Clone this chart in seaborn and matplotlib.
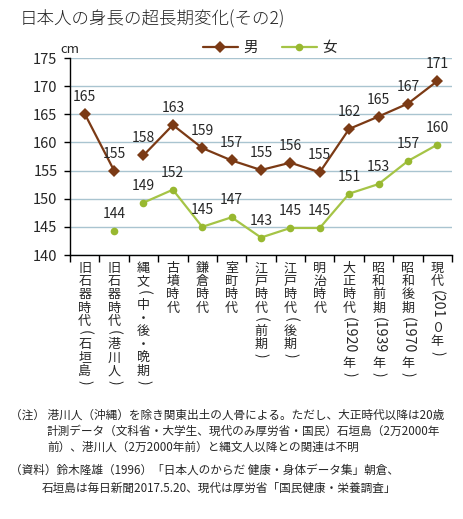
import re
import numpy as np
import pandas as pd
import matplotlib
matplotlib.use("Agg")
import matplotlib.pyplot as plt
import seaborn as sns
from matplotlib.font_manager import FontProperties
from matplotlib.textpath import TextToPath

# ---------------- data ----------------
categories = [
    "旧石器時代(石垣島)", "旧石器時代(港川人)", "縄文(中・後・晩期)", "古墳時代",
    "鎌倉時代", "室町時代", "江戸時代(前期)", "江戸時代(後期)", "明治時代",
    "大正時代(1920年)", "昭和前期(1939年)", "昭和後期(1970年)", "現代(201０年)",
]
male = [165.1, 155.0, 157.7, 163.1, 159.0, 156.8, 155.1, 156.4, 154.7,
        162.4, 164.6, 166.9, 170.9]
female = [np.nan, 144.2, 149.3, 151.6, 145.0, 146.7, 143.1, 144.8, 144.8,
          150.9, 152.6, 156.7, 159.6]
# line segments (no line joins points of different segments)
male_segment = [0, 0, 1, 1, 1, 1, 1, 1, 1, 1, 1, 1, 1]
female_segment = [0, 0, 1, 1, 1, 1, 1, 1, 1, 1, 1, 1, 1]
series_names = ["男", "女"]
y_ticks = [140, 145, 150, 155, 160, 165, 170, 175]

title = "日本人の身長の超長期変化(その2)"
note_lines = [
    "（注） 港川人（沖縄）を除き関東出土の人骨による。ただし、大正時代以降は20歳",
    "計測データ（文科省・大学生、現代のみ厚労省・国民）石垣島（2万2000年",
    "前）、港川人（2万2000年前）と縄文人以降との関連は不明",
]
source_lines = [
    "（資料）鈴木隆雄（1996）「日本人のからだ 健康・身体データ集」朝倉、",
    "石垣島は毎日新聞2017.5.20、現代は厚労省「国民健康・栄養調査」",
]

# ---------------- style ----------------
sns.set_style("white")
plt.rcParams["font.family"] = ["Noto Sans CJK JP", "DejaVu Sans"]

MALE_C = "#7B3A15"
FEMALE_C = "#A5C446"
FEMALE_MK = "#98B830"

W, H, DPI = 464, 519, 100
fig = plt.figure(figsize=(W / DPI, H / DPI), dpi=DPI)
ax_l, ax_r, ax_t, ax_b = 70, 452, 58, 255
ax = fig.add_axes([ax_l / W, 1 - ax_b / H, (ax_r - ax_l) / W, (ax_b - ax_t) / H])

x = np.arange(len(categories))
df = pd.concat([
    pd.DataFrame({"x": x, "height": male, "sex": series_names[0],
                  "seg": [f"m{s}" for s in male_segment]}),
    pd.DataFrame({"x": x, "height": female, "sex": series_names[1],
                  "seg": [f"f{s}" for s in female_segment]}),
]).dropna()

sns.lineplot(data=df, x="x", y="height", hue="sex", style="sex", units="seg",
             estimator=None, palette={"男": MALE_C, "女": FEMALE_C},
             markers={"男": "D", "女": "o"}, dashes=False, linewidth=1.6,
             markersize=6, markeredgewidth=0, ax=ax, legend=True, sort=True)

for ln in ax.get_lines():
    if matplotlib.colors.to_hex(ln.get_color()) == FEMALE_C.lower():
        ln.set_markerfacecolor(FEMALE_MK)
        ln.set_markersize(5.5)

ax.set_xlim(-0.5, len(categories) - 0.5)
ax.set_ylim(y_ticks[0], y_ticks[-1])
ax.set_yticks(y_ticks)
ax.set_xticks(np.arange(-0.5, len(categories), 1.0))
ax.set_xticklabels([])
ax.set_xlabel("")
ax.set_ylabel("")
ax.grid(axis="y", color="#A9C4D0", linewidth=1.0)
ax.set_axisbelow(True)
for s in ["top", "right"]:
    ax.spines[s].set_visible(False)
for s in ["left", "bottom"]:
    ax.spines[s].set_color("black")
    ax.spines[s].set_linewidth(1.0)
ax.tick_params(axis="y", length=4, width=1, color="black", pad=5, labelsize=10.5,
               direction="out", left=True)
ax.tick_params(axis="x", length=5, width=1, color="black", direction="out", bottom=True)

# cm unit label
ax.text(0.0, 1.045, "cm", transform=ax.transAxes, ha="center", va="center", fontsize=9.5)

# data labels
for vals in (male, female):
    for i, v in enumerate(vals):
        if np.isfinite(v):
            ax.annotate(f"{v:.0f}", (i, v), xytext=(0, 17), textcoords="offset pixels",
                        ha="center", va="center", fontsize=10)

# legend
handles, labels = ax.get_legend_handles_labels()
ax.legend(handles, labels, loc="center", bbox_to_anchor=(270 / W, 1 - 48 / H),
          bbox_transform=fig.transFigure, ncol=2, frameon=False, fontsize=10.5,
          handlelength=2.4, handletextpad=0.4, columnspacing=1.6)

# vertical category labels
TICK_FS = 9.4
fp = FontProperties(family="Noto Sans CJK JP", size=TICK_FS)
fp_ascii = FontProperties(family="Noto Sans CJK JP", size=10.2)
t2p = TextToPath()
pxpt = DPI / 72.0
PITCH = 13.2
for i, lab in enumerate(categories):
    yoff = -7
    for tok in re.findall(r"[\x20-\x7e]+|.", lab):
        if tok.isascii():
            w, h, d = t2p.get_text_width_height_descent(tok, fp_ascii, ismath=False)
            ax.annotate(tok, xy=(i, 0), xycoords=("data", "axes fraction"),
                        xytext=(0, yoff - 2), textcoords="offset pixels", rotation=-90,
                        ha="center", va="top", fontproperties=fp_ascii,
                        annotation_clip=False)
            yoff -= w * pxpt + 5.5
        else:
            ax.annotate(tok, xy=(i, 0), xycoords=("data", "axes fraction"),
                        xytext=(0, yoff), textcoords="offset pixels",
                        ha="center", va="top", fontproperties=fp, annotation_clip=False)
            yoff -= PITCH

# title
fig.text(20 / W, 1 - 19.5 / H, title, ha="left", va="center", fontsize=12.6,
         fontweight="light", color="#222222")

# notes
NOTE_FS = 8.4
fig.text(10 / W, 1 - 415 / H, note_lines[0], ha="left", va="center", fontsize=NOTE_FS)
fig.text(47 / W, 1 - 431 / H, note_lines[1], ha="left", va="center", fontsize=NOTE_FS)
fig.text(47 / W, 1 - 447 / H, note_lines[2], ha="left", va="center", fontsize=NOTE_FS)
fig.text(10 / W, 1 - 470 / H, source_lines[0], ha="left", va="center", fontsize=NOTE_FS)
fig.text(42 / W, 1 - 488 / H, source_lines[1], ha="left", va="center", fontsize=NOTE_FS)

fig.savefig("out.png", dpi=DPI)
